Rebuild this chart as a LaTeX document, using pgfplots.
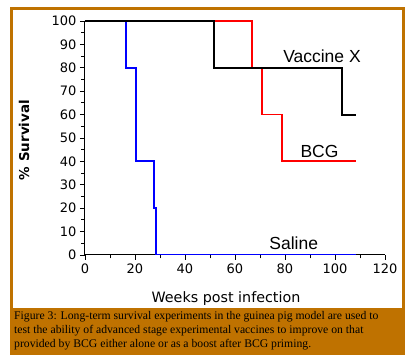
\documentclass[border=0pt]{standalone}
\usepackage{pgfplots}
\pgfplotsset{compat=1.18}
\usepackage{fontspec}
\setmainfont{Liberation Serif}
\newfontfamily\dejavu{DejaVu Sans}
\newfontfamily\arial{Liberation Sans}
\definecolor{framebrown}{RGB}{191,114,0}
\begin{document}
\begin{tikzpicture}
\path (0pt,0pt) rectangle (405pt,355pt);
\fill[framebrown] (10pt,0pt) rectangle (405pt,348pt);
\fill[white] (13pt,47pt) rectangle (401.7pt,345pt);
\begin{axis}[
  at={(85pt,100pt)}, anchor=south west,
  scale only axis, width=300pt, height=234pt,
  xmin=0, xmax=120, ymin=0, ymax=100,
  axis lines=left, axis line style={-, line width=1pt},
  xtick={0,20,...,120}, ytick={0,10,...,100},
  minor x tick num=1, minor y tick num=1,
  tick align=outside,
  major tick length=5pt, minor tick length=3.5pt,
  every tick/.style={black, line width=0.9pt},
  /pgf/number format/assume math mode=true,
  ticklabel style={font=\dejavu\fontsize{13}{15}\selectfont},
  xlabel={Weeks post infection},
  xlabel style={at={(axis description cs:0.47,-0.188)}, anchor=center, font=\dejavu\fontsize{14.3}{16}\selectfont},
  ylabel={\% Survival},
  ylabel style={at={(axis description cs:-0.203,0.491)}, anchor=center, rotate=0, font=\dejavu\bfseries\fontsize{13.5}{16}\selectfont},
]
\addplot[const plot mark left, red, line width=1.8pt] coordinates {(0,100) (66.8,80) (70.8,60) (78.9,40) (108.3,40)};
\addplot[const plot mark left, blue, line width=2pt] coordinates {(0,100) (16.5,80) (20.5,40) (27.7,20) (28.4,0) (108.3,0)};
\addplot[const plot mark left, black, line width=2pt] coordinates {(0,100) (51.6,80) (102.8,60) (108.3,60)};
\node[font=\arial\fontsize{17.5}{20}\selectfont, anchor=center] at (axis cs:94.8,84.9) {Vaccine X};
\node[font=\arial\fontsize{17.5}{20}\selectfont, anchor=center] at (axis cs:93.8,44.1) {BCG};
\node[font=\arial\fontsize{17.5}{20}\selectfont, anchor=center] at (axis cs:83.5,5.1) {Saline};
\end{axis}
\node[anchor=base west, inner sep=0pt, font=\fontsize{11.7}{14}\selectfont] at (14pt,35.7pt) {Figure 3: Long-term survival experiments in the guinea pig model are used to};
\node[anchor=base west, inner sep=0pt, font=\fontsize{11.7}{14}\selectfont] at (14pt,21.7pt) {test the ability of advanced stage experimental vaccines to improve on that};
\node[anchor=base west, inner sep=0pt, font=\fontsize{11.7}{14}\selectfont] at (14pt,7.7pt) {provided by BCG either alone or as a boost after BCG priming.};
\end{tikzpicture}
\end{document}
